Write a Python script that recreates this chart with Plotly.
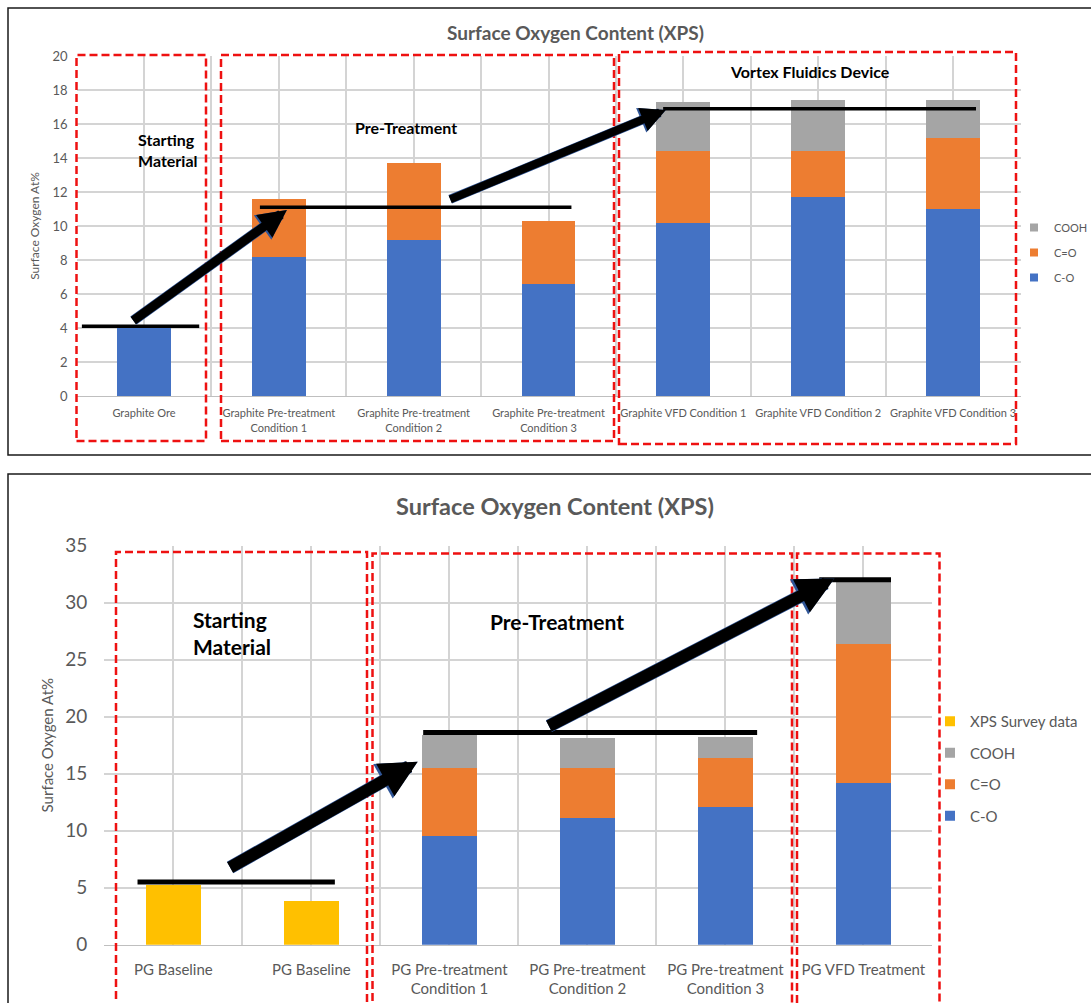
import plotly.graph_objects as go

W, H = 1091, 1003

# ---------------- data ----------------
graphite_labels = [
    "Graphite Ore",
    "Graphite Pre-treatment<br>Condition 1",
    "Graphite Pre-treatment<br>Condition 2",
    "Graphite Pre-treatment<br>Condition 3",
    "Graphite VFD Condition 1",
    "Graphite VFD Condition 2",
    "Graphite VFD Condition 3",
]
graphite_co = [4.0, 8.2, 9.2, 6.6, 10.2, 11.7, 11.0]
graphite_c_double_o = [None, 3.4, 4.5, 3.7, 4.2, 2.7, 4.2]
graphite_cooh = [None, None, None, None, 2.9, 3.0, 2.2]
graphite_levels = [4.1, 11.1, 16.9]

pg_labels = [
    "PG Baseline",
    "PG Baseline",
    "PG Pre-treatment<br>Condition 1",
    "PG Pre-treatment<br>Condition 2",
    "PG Pre-treatment<br>Condition 3",
    "PG VFD Treatment",
]
pg_survey = [5.2, 3.8, None, None, None, None]
pg_co = [None, None, 9.5, 11.1, 12.1, 14.2]
pg_c_double_o = [None, None, 6.0, 4.4, 4.3, 12.2]
pg_cooh = [None, None, 2.9, 2.6, 1.8, 5.6]
pg_levels = [5.5, 18.6, 32.0]

BLUE, ORANGE, GRAY, YELLOW = "#4472C4", "#ED7D31", "#A5A5A5", "#FFC000"
TXT = "#595959"
GRID = "#d4d4d4"
RED = "#ee1111"
FONT = "Lato"


def px_x(p):
    return p / W


def px_y(p):
    return 1 - p / H


fig = go.Figure()

g_idx = list(range(len(graphite_labels)))
p_idx = list(range(len(pg_labels)))

# stacked bars, upper chart
for vals, col in [(graphite_co, BLUE), (graphite_c_double_o, ORANGE), (graphite_cooh, GRAY)]:
    fig.add_trace(go.Bar(x=g_idx, y=vals, width=0.4, marker=dict(color=col, line=dict(width=0)),
                         xaxis="x", yaxis="y", showlegend=False, hoverinfo="y"))

# stacked bars, lower chart
for vals, col in [(pg_co, BLUE), (pg_c_double_o, ORANGE), (pg_cooh, GRAY), (pg_survey, YELLOW)]:
    fig.add_trace(go.Bar(x=p_idx, y=vals, width=0.4, marker=dict(color=col, line=dict(width=0)),
                         xaxis="x2", yaxis="y2", showlegend=False, hoverinfo="y"))

# legend entries
for name, col in [("COOH", GRAY), ("C=O", ORANGE), ("C-O", BLUE)]:
    fig.add_trace(go.Scatter(x=[None], y=[None], mode="markers", name=name, legend="legend",
                             legendgroup="g" + name, xaxis="x", yaxis="y",
                             marker=dict(symbol="square", size=8, color=col)))
for name, col in [("XPS Survey data", YELLOW), ("COOH", GRAY), ("C=O", ORANGE), ("C-O", BLUE)]:
    fig.add_trace(go.Scatter(x=[None], y=[None], mode="markers", name=name, legend="legend2",
                             legendgroup="p" + name, xaxis="x2", yaxis="y2",
                             marker=dict(symbol="square", size=10, color=col)))

shapes = []
annotations = []

# panel frames
for top, bottom in [(8, 455), (474, 1015)]:
    shapes.append(dict(type="rect", xref="paper", yref="paper", x0=px_x(8), x1=px_x(1100),
                       y0=px_y(bottom), y1=px_y(top), line=dict(color="#1a1a1a", width=1.5),
                       layer="above"))

# dashed group boxes
for l, r, t, b in [(76.5, 206, 55, 441), (221, 614, 55, 441), (619, 1016, 52, 444),
                   (116, 367, 552, 1015), (372.5, 792, 553.5, 1015), (797, 939.5, 553.5, 1015)]:
    shapes.append(dict(type="rect", xref="paper", yref="paper", x0=px_x(l), x1=px_x(r),
                       y0=px_y(b), y1=px_y(t), line=dict(color=RED, width=2.5, dash="8px,4px")))

# level lines
for (x0, x1), lv in zip([(-0.46, 0.41), (0.86, 3.17), (3.85, 6.17)], graphite_levels):
    shapes.append(dict(type="line", xref="x", yref="y", x0=x0, x1=x1, y0=lv, y1=lv,
                       line=dict(color="black", width=3.5)))
for (x0, x1), lv in zip([(-0.26, 1.17), (1.81, 4.23), (4.68, 5.2)], pg_levels):
    shapes.append(dict(type="line", xref="x2", yref="y2", x0=x0, x1=x1, y0=lv, y1=lv,
                       line=dict(color="black", width=5)))


def add_arrow(xa, ya, tail, tip, width, size=0.62):
    # thin dark-blue rim under a thick black arrow
    rim = width + 1.2
    for color, w, s in [("#2F5597", rim, size * width / rim + 0.04), ("black", width, size)]:
        annotations.append(dict(x=tip[0], y=tip[1], ax=tail[0], ay=tail[1], xref=xa, yref=ya,
                                axref=xa, ayref=ya, showarrow=True, arrowhead=2, arrowsize=s,
                                arrowwidth=w, arrowcolor=color, text="", standoff=0))


add_arrow("x", "y", (-0.09, 4.37), (1.06, 10.94), 9)
add_arrow("x", "y", (2.26, 11.53), (3.87, 16.82), 8)
add_arrow("x2", "y2", (0.40, 6.7), (1.77, 16.05), 12)
add_arrow("x2", "y2", (2.71, 19.1), (4.79, 32.1), 12)

# group labels
bold = lambda s: dict(family=FONT, size=s, color="black")
annotations += [
    dict(x=-0.06, y=14.5, xref="x", yref="y", text="<b>Starting<br>Material</b>", showarrow=False,
         xanchor="left", align="left", font=bold(16)),
    dict(x=1.94, y=15.8, xref="x", yref="y", text="<b>Pre-Treatment</b>", showarrow=False, font=bold(16)),
    dict(x=4.94, y=19.1, xref="x", yref="y", text="<b>Vortex Fluidics Device</b>", showarrow=False,
         font=bold(16)),
    dict(x=0.13, y=27.3, xref="x2", yref="y2", text="<b>Starting<br>Material</b>", showarrow=False,
         xanchor="left", align="left", font=bold(21)),
    dict(x=2.78, y=28.3, xref="x2", yref="y2", text="<b>Pre-Treatment</b>", showarrow=False, font=bold(21)),
    dict(x=4.96, y=35.8, xref="x2", yref="y2", text="<b>VFD</b>", showarrow=False, font=bold(20)),
    # chart titles
    dict(x=px_x(575), y=px_y(32), xref="paper", yref="paper", text="<b>Surface Oxygen Content (XPS)</b>",
         showarrow=False, xanchor="center", yanchor="middle", font=dict(family=FONT, size=19, color=TXT)),
    dict(x=px_x(555), y=px_y(506), xref="paper", yref="paper", text="<b>Surface Oxygen Content (XPS)</b>",
         showarrow=False, xanchor="center", yanchor="middle", font=dict(family=FONT, size=23.5, color=TXT)),
]


def xaxis(n, dom, labels, size, standoff):
    return dict(domain=dom, range=[-0.5, n - 0.5], tickmode="array", tickvals=list(range(n)),
                ticktext=labels, showgrid=True, gridcolor=GRID, gridwidth=2, zeroline=False,
                minor=dict(tickmode="linear", tick0=0.5, dtick=1, showgrid=True, gridcolor=GRID, gridwidth=2),
                showline=True, linecolor="#bfbfbf", linewidth=1, ticks="", automargin=False,
                tickangle=0, ticklabelstandoff=standoff,
                tickfont=dict(family=FONT, size=size, color=TXT), fixedrange=True)


def yaxis(rng, dtick, dom, anchor, size, tsize, standoff, title_standoff):
    return dict(domain=dom, range=rng, dtick=dtick, anchor=anchor, showgrid=True, gridcolor=GRID,
                gridwidth=2, zeroline=False, showline=False, ticks="", ticklabelstandoff=standoff,
                automargin=False, tickfont=dict(family=FONT, size=size, color=TXT),
                title=dict(text="Surface Oxygen At%", standoff=title_standoff,
                           font=dict(family=FONT, size=tsize, color=TXT)),
                fixedrange=True)


fig.update_layout(
    width=W, height=H, margin=dict(l=0, r=0, t=0, b=0, autoexpand=False),
    paper_bgcolor="white", plot_bgcolor="white",
    barmode="stack", bargap=0.6,
    font=dict(family=FONT, color=TXT),
    xaxis=xaxis(len(graphite_labels), [px_x(76.5), px_x(1020.5)], graphite_labels, 11, 7),
    yaxis=yaxis([0, 20], 2, [px_y(396), px_y(56)], "x", 13, 12, 8, 10),
    xaxis2=dict(xaxis(len(pg_labels), [px_x(104.4), px_x(932.4)], pg_labels, 15, 11), anchor="y2"),
    yaxis2=yaxis([0, 35], 5, [px_y(944.8), px_y(545.5)], "x2", 19, 15, 16, 8),
    legend=dict(x=px_x(1014), y=px_y(213), xanchor="left", yanchor="top", traceorder="grouped",
                tracegroupgap=6, font=dict(family=FONT, size=11, color=TXT), bgcolor="rgba(0,0,0,0)"),
    legend2=dict(x=px_x(930), y=px_y(705), xanchor="left", yanchor="top", traceorder="grouped",
                 tracegroupgap=9, font=dict(family=FONT, size=15, color=TXT), bgcolor="rgba(0,0,0,0)"),
    shapes=shapes,
    annotations=annotations,
    showlegend=True,
)

fig.write_html("out.html")
